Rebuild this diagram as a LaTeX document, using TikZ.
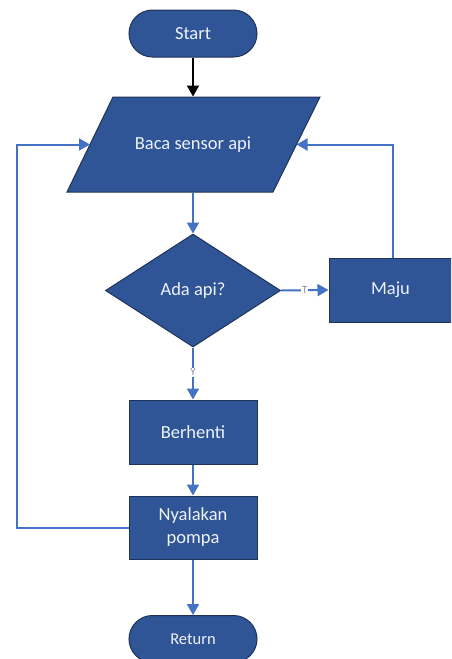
\documentclass[tikz,border=0pt]{standalone}
\usepackage{fontspec}
\setmainfont{Carlito}
\usetikzlibrary{arrows.meta,shapes.geometric}
\definecolor{boxfill}{HTML}{2F5597}
\definecolor{boxline}{HTML}{1F3257}
\definecolor{flowline}{HTML}{4472C4}
\definecolor{boxtext}{HTML}{EEF2FA}
\definecolor{labeltext}{HTML}{8F86AE}
\tikzset{
  shapebase/.style={fill=boxfill, draw=boxline, line width=1pt, text=boxtext,
    font=\fontsize{18.5}{23}\selectfont, inner sep=0pt, align=center},
  terminal/.style={shapebase, minimum width=128pt, minimum height=47pt, rounded corners=23.5pt},
  procbox/.style={shapebase, minimum width=128pt, minimum height=64pt},
  decision/.style={shapebase, diamond, minimum width=175pt, minimum height=113pt},
  flow/.style={draw=flowline, line width=2pt, -{Triangle[length=11pt,width=12pt]}},
  startflow/.style={draw=black, line width=2pt, -{Triangle[length=11pt,width=12pt]}},
  branchlabel/.style={font=\fontsize{11}{12}\selectfont, text=labeltext, fill=white, inner sep=1pt}
}
\begin{document}
\begin{tikzpicture}[x=1pt,y=-1pt]
  \useasboundingbox (0,0) rectangle (451,659);
  \clip (0,0) rectangle (451,659);

  % terminals and steps
  \node[terminal] (start) at (193,33.5) {Start};
  \path[shapebase] (113,97) -- (320,97) -- (273,192) -- (67,192) -- cycle;
  \node[shapebase, fill=none, draw=none, minimum width=160pt, minimum height=95pt] (baca) at (193,144.5) {Baca sensor api};
  \coordinate (bacaL) at (90,144.5);
  \coordinate (bacaR) at (296.5,144.5);
  \node[decision] (ada) at (193,290.5) {Ada api?};
  \node[procbox, minimum width=123pt] (maju) at (390.5,290) {Maju};
  \node[procbox] (stop) at (193,432) {Berhenti};
  \node[procbox, minimum height=63pt] (pompa) at (193,527.5) {Nyalakan\\pompa};
  \node[terminal, font=\fontsize{16.5}{20}\selectfont] (ret) at (193,639) {Return};

  % connectors
  \draw[startflow] (start) -- (baca.north);
  \draw[flow] (baca.south) -- (ada.north);
  \draw[flow] (ada.east) -- node[branchlabel] {T} (maju.west);
  \draw[flow] (ada.south) -- node[branchlabel, pos=0.48] {Y} (stop.north);
  \draw[flow] (stop.south) -- (pompa.north);
  \draw[flow] (pompa.south) -- (ret.north);
  \draw[flow] (pompa.west) -| (17,144.5) -- (bacaL);
  \draw[flow] (maju.north -| 393,0) |- (bacaR);
\end{tikzpicture}
\end{document}
